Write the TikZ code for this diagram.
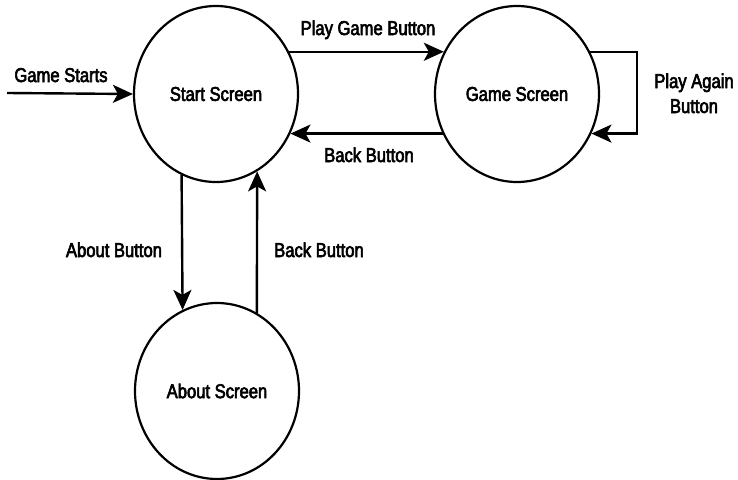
\documentclass[tikz,border=0pt]{standalone}
\usepackage{fontspec}
\setmainfont{Liberation Sans}[FakeStretch=0.83,FakeBold=3]
\usetikzlibrary{shapes.geometric,arrows.meta}
\begin{document}
\begin{tikzpicture}[x=1pt,y=-1pt,
  state/.style={draw,line width=2.2pt,ellipse,minimum width=164pt,minimum height=176pt,inner sep=0pt,font=\fontsize{20}{24}\selectfont},
  conn/.style={line width=2.4pt,-{Stealth[length=20pt,width=18pt,inset=5pt]}},
  lbl/.style={font=\fontsize{20}{24}\selectfont,anchor=base,inner sep=0pt}]
\useasboundingbox (0,0) rectangle (738,479);
\node[state] (start) at (216,94) {Start Screen};
\node[state] (game) at (517,94) {Game Screen};
\node[state] (about) at (217,391) {About Screen};
\coordinate (entry) at (7,93);
\coordinate (loop) at (637,94);
\draw[conn] (entry) -- (start.west);
\draw[conn] (start.30) -- (game.150);
\draw[conn] (game.-152) -- (start.-28);
\draw[conn] (game.30) -- (game.30 -| loop) -- (game.-28 -| loop) -- (game.-28);
\draw[conn] (start.-113) -- (about.113);
\draw[conn] (about.63) -- (start.-62);
\node[lbl] (l1) at (61,82) {Game Starts};
\node[lbl] (l2) at (368,35) {Play Game Button};
\node[lbl] (l3) at (369,162) {Back Button};
\node[lbl] (l4) at (694,88) {Play Again};
\node[lbl] (l5) at (694,113) {Button};
\node[lbl] (l6) at (114,257) {About Button};
\node[lbl] (l7) at (319,257) {Back Button};
\end{tikzpicture}
\end{document}
